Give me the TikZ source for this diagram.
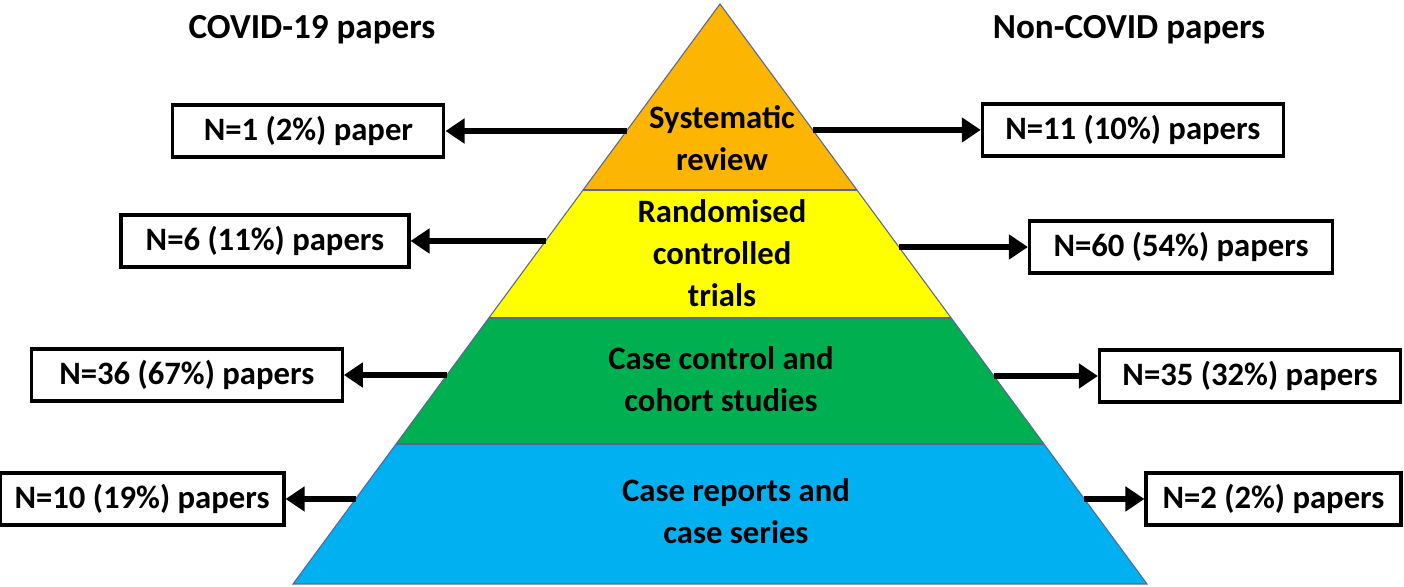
\documentclass[tikz,border=0pt]{standalone}
\usepackage{fontspec}
\setmainfont{Carlito}
\usepackage{tikz}
\usetikzlibrary{arrows.meta,calc,positioning}
\definecolor{tierorange}{RGB}{252,181,0}
\definecolor{tieryellow}{RGB}{255,255,0}
\definecolor{tiergreen}{RGB}{0,176,80}
\definecolor{tierblue}{RGB}{0,176,240}
\definecolor{tierline}{RGB}{90,100,150}
\tikzset{
  paper/.style={draw, line width=0.9pt, minimum height=0.52cm, inner sep=0pt,
    font=\fontsize{9.3}{11}\selectfont\bfseries},
  tierlabel/.style={align=center, font=\fontsize{9.3}{11.9}\selectfont\bfseries},
  heading/.style={font=\fontsize{10}{12}\selectfont\bfseries},
  tier/.style={draw=tierline, line width=0.3pt},
  link/.style={->, line width=1.7pt, >={Triangle[length=0.19cm, width=0.24cm]}}
}
\begin{document}
\begin{tikzpicture}
      \useasboundingbox (0,0) rectangle (14.04,5.87);
      % pyramid
      \coordinate (apex) at (7.20,5.83);
      \coordinate (bl) at (2.93,0.03);
      \coordinate (br) at (11.47,0.03);
      \coordinate (l1) at ($(apex)!0.3207!(bl)$);
      \coordinate (r1) at ($(apex)!0.3207!(br)$);
      \coordinate (l2) at ($(apex)!0.5414!(bl)$);
      \coordinate (r2) at ($(apex)!0.5414!(br)$);
      \coordinate (l3) at ($(apex)!0.7586!(bl)$);
      \coordinate (r3) at ($(apex)!0.7586!(br)$);
      \fill[tierorange] (apex) -- (l1) -- (r1) -- cycle;
      \fill[tieryellow] (l1) -- (l2) -- (r2) -- (r1) -- cycle;
      \fill[tiergreen] (l2) -- (l3) -- (r3) -- (r2) -- cycle;
      \fill[tierblue] (l3) -- (bl) -- (br) -- (r3) -- cycle;
      \draw[tier] (apex) -- (bl) -- (br) -- cycle;
      \draw[tier] (l1) -- (r1);
      \draw[tier] (l2) -- (r2);
      \draw[tier] (l3) -- (r3);
      \node[tierlabel] at (7.22,4.49) (sysrev) {Systematic\\review};
      \node[tierlabel] at (7.22,3.34) (rct) {Randomised\\controlled\\trials};
      \node[tierlabel] at (7.21,2.08) (cohort) {Case control and\\cohort studies};
      \node[tierlabel] at (7.36,0.76) (casrep) {Case reports and\\case series};
      % headings
      \node[heading] at (3.12,5.57) (covid) {COVID-19 papers};
      \node[heading] at (11.29,5.57) (noncovid) {Non-COVID papers};
      % arrow starts on the pyramid sides
      \coordinate (sL1) at ($(apex)!0.2190!(bl)$);
      \coordinate (sR1) at ($(apex)!0.2172!(br)$);
      \coordinate (sL2) at ($(apex)!0.4086!(bl)$);
      \coordinate (sR2) at ($(apex)!0.4190!(br)$);
      \coordinate (sL3) at ($(apex)!0.6397!(bl)$);
      \coordinate (sR3) at ($(apex)!0.6414!(br)$);
      \coordinate (sL4) at ($(apex)!0.8534!(bl)$);
      \coordinate (sR4) at ($(apex)!0.8534!(br)$);
      % counts
      \node[paper, minimum width=2.71cm, left=1.81cm of sL1] (cL1) {N=1 (2\%) paper};
      \node[paper, minimum width=3.01cm, right=1.68cm of sR1] (cR1) {N=11 (10\%) papers};
      \node[paper, minimum width=2.88cm, left=1.35cm of sL2] (cL2) {N=6 (11\%) papers};
      \node[paper, minimum width=3.03cm, right=1.29cm of sR2] (cR2) {N=60 (54\%) papers};
      \node[paper, minimum width=3.11cm, left=1.03cm of sL3] (cL3) {N=36 (67\%) papers};
      \node[paper, minimum width=3.01cm, right=1.04cm of sR3] (cR3) {N=35 (32\%) papers};
      \node[paper, minimum width=2.84cm, left=0.70cm of sL4] (cL4) {N=10 (19\%) papers};
      \node[paper, minimum width=2.55cm, right=0.60cm of sR4] (cR4) {N=2 (2\%) papers};
      \draw[link] (sL1) -- (cL1);
      \draw[link] (sR1) -- (cR1);
      \draw[link] (sL2) -- (cL2);
      \draw[link] (sR2) -- (cR2);
      \draw[link] (sL3) -- (cL3);
      \draw[link] (sR3) -- (cR3);
      \draw[link] (sL4) -- (cL4);
      \draw[link] (sR4) -- (cR4);
\end{tikzpicture}
\end{document}
